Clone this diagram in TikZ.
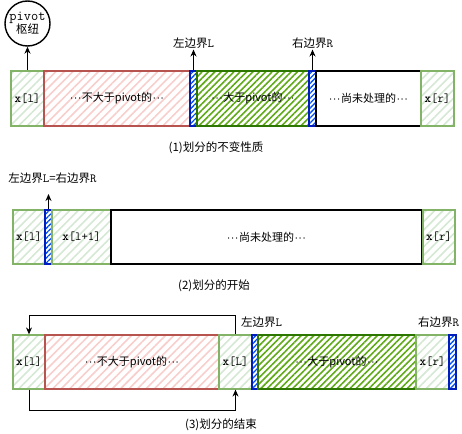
\documentclass[tikz,border=0pt]{standalone}
\usepackage{fontspec}
\newfontfamily\cjk{Noto Sans CJK SC}
\newfontfamily\lib{Liberation Sans}
\usetikzlibrary{patterns.meta,arrows.meta}
\newcommand{\dd}{{\lib\kern0.5pt·\kern0.3pt·\kern0.3pt·\kern0.5pt}}
\newcommand{\mt}[1]{{\fontsize{12.4}{13}\selectfont\ttfamily #1}}
\definecolor{lgB}{HTML}{82B366}
\definecolor{lgH}{HTML}{D5E8D4}
\definecolor{rdB}{HTML}{B85450}
\definecolor{rdH}{HTML}{F8CECC}
\definecolor{dgB}{HTML}{2D7600}
\definecolor{dgH}{HTML}{60A917}
\definecolor{blB}{HTML}{001DBC}
\definecolor{blH}{HTML}{0050EF}
\tikzset{
  cell/.style={line width=1.2pt, inner sep=0pt, minimum height=55pt, anchor=center, font=\fontsize{11}{13}\selectfont\cjk},
  lightg/.style={cell, draw=lgB, pattern={Lines[angle=45,distance=6pt,line width=1.6pt]}, pattern color=lgH},
  lightr/.style={cell, draw=rdB, pattern={Lines[angle=45,distance=6pt,line width=1.6pt]}, pattern color=rdH},
  darkg/.style={cell, draw=dgB, pattern={Lines[angle=45,distance=4.5pt,line width=1.6pt]}, pattern color=dgH},
  bluec/.style={cell, draw=blB, pattern={Lines[angle=45,distance=3.5pt,line width=1.3pt]}, pattern color=blH},
  whitec/.style={cell, draw=black, fill=white},
  conn/.style={draw=black, line width=1pt, -{Stealth[length=7pt,width=6pt]}},
  lab/.style={inner sep=1pt, font=\fontsize{11.5}{13}\selectfont\cjk},
  captxt/.style={inner sep=1pt, font=\fontsize{11.5}{13}\selectfont\cjk}
}
\begin{document}
\begin{tikzpicture}[x=1pt,y=-1pt]
\useasboundingbox (0,0) rectangle (462,433);
% ---------- row 1 ----------
\node[lightg, minimum width=33pt] (xl1) at (27.5,98.5) {\mt{\textbf{x}[l]}};
\node[lightr, minimum width=146pt] (red1) at (117,98.5) {\dd 不大于pivot的\dd};
\node[bluec, minimum width=7pt] (bL1) at (193.5,98.5) {};
\node[darkg, minimum width=112pt] (g1) at (253,98.5) {\dd 大于pivot的\dd};
\node[bluec, minimum width=7pt] (bR1) at (312.5,98.5) {};
\node[whitec, minimum width=105pt] (w1) at (368.5,98.5) {\dd 尚未处理的\dd};
\node[lightg, minimum width=33pt] (xr1) at (437.5,98.5) {\mt{\textbf{x}[r]}};
\node[circle, draw=black, line width=1.4pt, minimum size=45pt, inner sep=0pt, align=center] (piv) at (27.5,23.5)
  {{\fontsize{14}{14}\selectfont\ttfamily pivot}\\[-1pt]{\fontsize{11.5}{13}\selectfont\cjk 枢纽}};
\draw[conn] (xl1.north) -- (piv.south);
\node[lab] (lL1) at (193.5,43) {左边界\mt{L}};
\node[lab] (lR1) at (312.5,43) {右边界\mt{R}};
\draw[conn] (bL1.north) -- (lL1.south);
\draw[conn] (bR1.north) -- (lR1.south);
\node[captxt] (c1) at (216,148) {(1)划分的不变性质};
% ---------- row 2 ----------
\node[lightg, minimum width=32pt, minimum height=54pt] (xl2) at (29,237) {\mt{\textbf{x}[l]}};
\node[bluec, minimum width=7pt, minimum height=54pt] (b2) at (48.5,237) {};
\node[lightg, minimum width=59pt, minimum height=54pt] (xl12) at (81.5,237) {\mt{\textbf{x}[l+1]}};
\node[whitec, minimum width=311pt, minimum height=54pt] (w2) at (266.5,237) {\dd 尚未处理的\dd};
\node[lightg, minimum width=32pt, minimum height=54pt] (xr2) at (439,237) {\mt{\textbf{x}[r]}};
\node[lab] (l2) at (52.5,178) {左边界\mt{L}=右边界\mt{R}};
\coordinate (a2) at (48.5,194);
\draw[conn] (b2.north) -- (a2);
\node[captxt] (c2) at (214,286) {(2)划分的开始};
% ---------- row 3 ----------
\node[lightg, minimum width=32pt, minimum height=54pt] (xl3) at (29,362) {\mt{\textbf{x}[l]}};
\node[lightr, minimum width=174pt, minimum height=54pt] (red3) at (132,362) {\dd 不大于pivot的\dd};
\node[lightg, minimum width=33pt, minimum height=54pt] (xL3) at (235.5,362) {\mt{\textbf{x}[L]}};
\node[bluec, minimum width=6pt, minimum height=54pt] (bL3) at (255,362) {};
\node[darkg, minimum width=158pt, minimum height=54pt] (g3) at (337,362) {\dd 大于pivot的\dd};
\node[lightg, minimum width=33pt, minimum height=54pt] (xr3) at (432.5,362) {\mt{\textbf{x}[r]}};
\node[bluec, minimum width=7pt, minimum height=54pt] (bR3) at (452.5,362) {};
\node[lab, anchor=west] (lL3) at (240,322) {左边界\mt{L}};
\node[lab, anchor=west] (lR3) at (417,322) {右边界\mt{R}};
\coordinate (t3) at (235.5,315);
\coordinate (b3) at (29,410);
\draw[conn] (xL3.north) -- (t3) -| (xl3.north);
\draw[conn] (xl3.south) -- (b3) -| (xL3.south);
\node[captxt] (c3) at (221,425) {(3)划分的结束};
\end{tikzpicture}
\end{document}
